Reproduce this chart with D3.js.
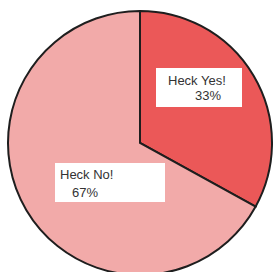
<!DOCTYPE html>
<html>
<head>
<meta charset="utf-8">
<script src="https://cdn.jsdelivr.net/npm/d3@7"></script>
<style>
  body { margin: 0; background: #fff; }
  text { font-family: "Liberation Sans", Arial, sans-serif; font-size: 13px; fill: #333; }
</style>
</head>
<body>
<div id="chart"></div>
<script>
const categories = ['Heck Yes!', 'Heck No!']
const values = [33, 67]
const percentLabels = ['33%', '67%']
const colors = ['#eb5858', '#f2aaa9']

const width = 273
const height = 272
const cx = 140
const cy = 143
const radius = 132

// label boxes, relative to pie centre
const boxes = [
  { x: 16, y: -75, w: 86, h: 39, tx: 12, ty: 17, px: 39, py: 32 },
  { x: -85, y: 20, w: 110, h: 39, tx: 5, ty: 16, px: 17, py: 34 }
]

const svg = d3
  .select('#chart')
  .append('svg')
  .attr('width', width)
  .attr('height', height)

const g = svg.append('g').attr('transform', 'translate(' + cx + ',' + cy + ')')

const pie = d3.pie().sort(null).value(d => d)
const arc = d3.arc().innerRadius(0).outerRadius(radius)

const arcs = pie(values)

g.selectAll('.slice')
  .data(arcs)
  .enter()
  .append('path')
  .attr('class', 'slice')
  .attr('d', arc)
  .attr('fill', (d, i) => colors[i])
  .attr('stroke', '#1e1e1e')
  .attr('stroke-width', 2)
  .attr('stroke-linejoin', 'miter')

const labels = g
  .selectAll('.label')
  .data(arcs)
  .enter()
  .append('g')
  .attr('class', 'label')
  .attr('transform', (d, i) => 'translate(' + boxes[i].x + ',' + boxes[i].y + ')')

labels
  .append('rect')
  .attr('width', (d, i) => boxes[i].w)
  .attr('height', (d, i) => boxes[i].h)
  .attr('fill', '#fff')

labels
  .append('text')
  .attr('x', (d, i) => boxes[i].tx)
  .attr('y', (d, i) => boxes[i].ty)
  .text((d, i) => categories[i])

labels
  .append('text')
  .attr('x', (d, i) => boxes[i].px)
  .attr('y', (d, i) => boxes[i].py)
  .text((d, i) => percentLabels[i])
</script>
</body>
</html>
